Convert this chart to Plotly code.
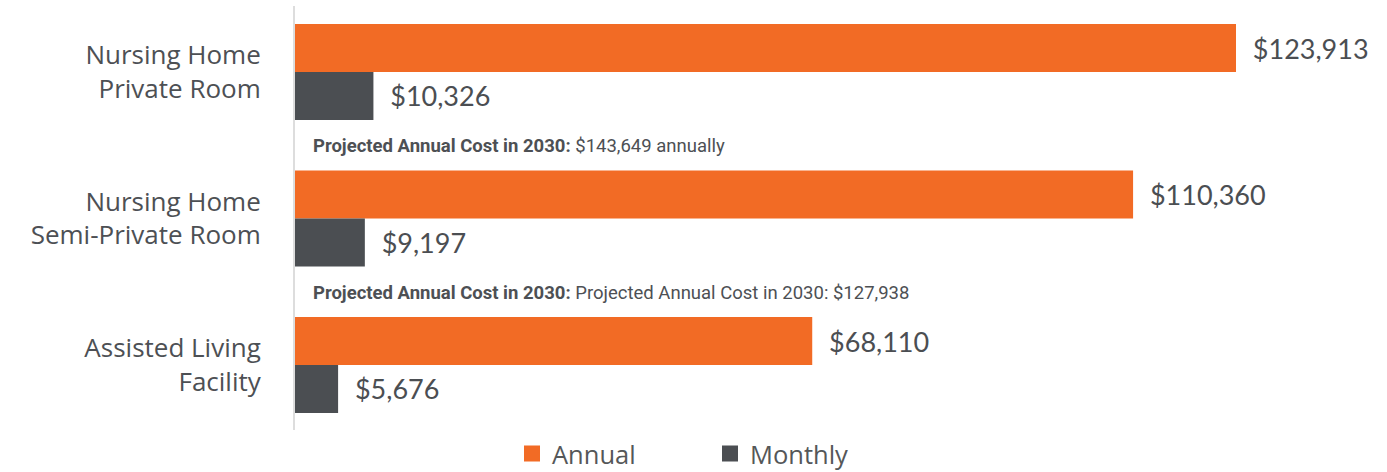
import plotly.graph_objects as go

categories = ["Nursing Home<br>Private Room", "Nursing Home<br>Semi-Private Room", "Assisted Living<br>Facility"]
annual = [123913, 110360, 68110]
monthly = [10326, 9197, 5676]
notes_bold = ["Projected Annual Cost in 2030:", "Projected Annual Cost in 2030:"]
notes_text = ["$143,649 annually", "Projected Annual Cost in 2030: $127,938"]
legend_names = ["Annual", "Monthly"]

ORANGE = "#F26B25"
GRAY = "#4B4E52"
TEXT = "#4D5054"

fig = go.Figure()
fig.add_trace(go.Bar(
    y=categories, x=annual, orientation="h", name=legend_names[0],
    marker=dict(color=ORANGE, line=dict(width=0)),
    text=annual, texttemplate="\u00a0\u00a0$%{x:,}", textposition="outside",
    textfont=dict(family="Lato", size=27, color=GRAY),
    cliponaxis=False, constraintext="none", showlegend=False,
))
fig.add_trace(go.Bar(
    y=categories, x=monthly, orientation="h", name=legend_names[1],
    marker=dict(color=GRAY, line=dict(width=0)),
    text=monthly, texttemplate="\u00a0\u00a0$%{x:,}", textposition="outside",
    textfont=dict(family="Lato", size=27, color=GRAY),
    cliponaxis=False, constraintext="none", showlegend=False,
))
# legend entries
for name, col in zip(legend_names, [ORANGE, GRAY]):
    fig.add_trace(go.Scatter(
        x=[None], y=[None], mode="markers", name=name,
        marker=dict(symbol="square", size=16, color=col, line=dict(width=0)),
    ))

for i, (b, t) in enumerate(zip(notes_bold, notes_text)):
    fig.add_annotation(
        x=0, y=i + 0.5, xref="x", yref="y", xanchor="left", yanchor="middle",
        xshift=16, yshift=-1, showarrow=False,
        text=f"<b>{b}</b> {t}",
        font=dict(family="Roboto", size=18.5, color=TEXT),
    )

fig.update_layout(
    width=1387, height=472,
    margin=dict(l=295, r=0, t=6, b=42, autoexpand=False),
    paper_bgcolor="white", plot_bgcolor="white",
    barmode="group", bargap=0.345, bargroupgap=0,
    font=dict(family="Open Sans", color=TEXT),
    xaxis=dict(range=[0, 123913 * 1092 / 941], visible=False, showgrid=False,
               zeroline=False, automargin=False),
    yaxis=dict(
        range=[2.4437, -0.4505], showline=True, linecolor="#DDDDDD", linewidth=2,
        showgrid=False, zeroline=False, ticks="", ticklabelstandoff=27, automargin=False,
        tickfont=dict(family="Open Sans", size=26, color=TEXT),
    ),
    legend=dict(
        orientation="h", xref="container", yref="container",
        x=512 / 1387, xanchor="left", y=(472 - 454) / 472, yanchor="middle",
        font=dict(family="Open Sans", size=25.5, color="#555759"),
        entrywidth=153, entrywidthmode="pixels", itemsizing="trace",
        bgcolor="rgba(0,0,0,0)",
    ),
)

fig.write_html("out.html", config={"displayModeBar": False},
               post_script="document.body.style.margin='0px';")
